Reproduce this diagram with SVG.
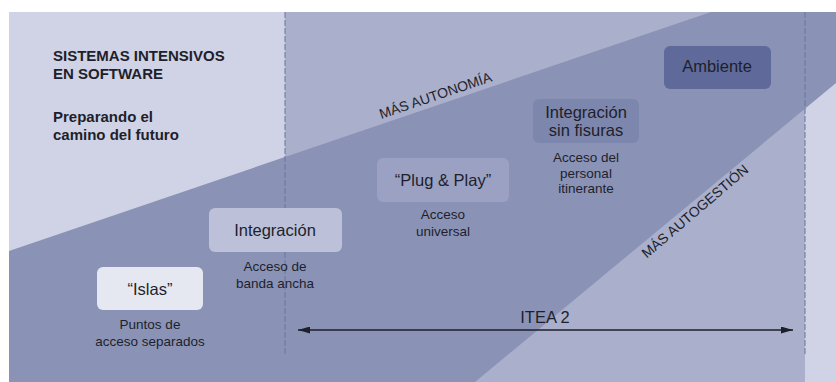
<svg xmlns="http://www.w3.org/2000/svg" width="836" height="382" viewBox="0 0 836 382">
  <defs>
    <style>
      text { font-family: "Liberation Sans", Arial, sans-serif; fill: #1e1f2b; }
      .title { font-size: 15px; font-weight: bold; }
      .box-label { font-size: 16.5px; text-anchor: middle; }
      .sub { font-size: 13.5px; text-anchor: middle; }
      .diag { font-size: 14px; text-anchor: middle; }
      .dash { stroke: #6b749c; stroke-width: 1; stroke-dasharray: 6 2; fill: none; }
      .conn { stroke: #1e1f2b; stroke-width: 1.3; fill: none; }
    </style>
    <marker id="arr" viewBox="0 0 12 7" refX="12" refY="3.5" markerWidth="12" markerHeight="7" markerUnits="userSpaceOnUse" orient="auto-start-reverse">
      <path d="M0,0 L12,3.5 L0,7 Z" fill="#1e1f2b"/>
    </marker>
  </defs>

  <g id="background">
    <rect x="9" y="12" width="827" height="370" fill="#aab0cc"/>
    <rect x="9" y="12" width="276" height="370" fill="#d0d3e5"/>
    <rect x="805" y="12" width="31" height="370" fill="#d0d3e5"/>
    <polygon points="9,251 711,12 836,12 836,83 475,382 9,382" fill="#8a93b6"/>
    <line class="dash" x1="285" y1="12" x2="285" y2="355"/>
    <line class="dash" x1="805" y1="12" x2="805" y2="355"/>
  </g>

  <g id="heading">
    <text class="title" x="53" y="61">SISTEMAS INTENSIVOS</text>
    <text class="title" x="53" y="79">EN SOFTWARE</text>
    <text class="title" x="53" y="122">Preparando el</text>
    <text class="title" x="53" y="140">camino del futuro</text>
  </g>

  <g id="trend-labels">
    <text class="diag" transform="translate(437,100) rotate(-18.8)">MÁS AUTONOMÍA</text>
    <text class="diag" transform="translate(698,215) rotate(-40.5)">MÁS AUTOGESTIÓN</text>
  </g>

  <g id="node-islas">
    <rect x="97" y="267" width="106" height="43" rx="6" fill="#e6e8f1"/>
    <text class="box-label" x="150" y="295">“Islas”</text>
    <text class="sub" x="150" y="329">Puntos de</text>
    <text class="sub" x="150" y="346">acceso separados</text>
  </g>

  <g id="node-integracion">
    <rect x="209" y="208" width="133" height="44" rx="6" fill="#bcc0d9"/>
    <text class="box-label" x="275" y="236">Integración</text>
    <text class="sub" x="275" y="271">Acceso de</text>
    <text class="sub" x="275" y="288">banda ancha</text>
  </g>

  <g id="node-plugplay">
    <rect x="377" y="158" width="132" height="44" rx="6" fill="#9aa1c3"/>
    <text class="box-label" x="443" y="186">“Plug &amp; Play”</text>
    <text class="sub" x="443" y="219">Acceso</text>
    <text class="sub" x="443" y="236">universal</text>
  </g>

  <g id="node-sinfisuras">
    <rect x="533" y="99" width="106" height="44" rx="6" fill="#7d86ad"/>
    <text class="box-label" x="586" y="118">Integración</text>
    <text class="box-label" x="586" y="136">sin fisuras</text>
    <text class="sub" x="586" y="162">Acceso del</text>
    <text class="sub" x="586" y="178">personal</text>
    <text class="sub" x="586" y="193">itinerante</text>
  </g>

  <g id="node-ambiente">
    <rect x="664" y="46" width="107" height="43" rx="6" fill="#5f6a9b"/>
    <text class="box-label" x="717" y="72">Ambiente</text>
  </g>

  <g id="connectors">
    <line class="conn" x1="298" y1="330" x2="793" y2="330" marker-start="url(#arr)" marker-end="url(#arr)"/>
    <text class="box-label" x="545" y="323">ITEA 2</text>
  </g>
</svg>
